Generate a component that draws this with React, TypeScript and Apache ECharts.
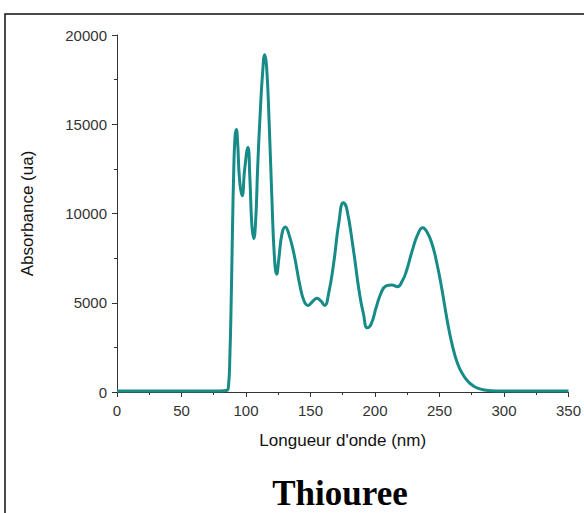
import React, { useEffect, useRef } from "react";
import * as echarts from "echarts";

const wavelength: number[] = [
  0, 20, 40, 60, 80, 85, 86.5, 87.5, 88.5, 89.5, 90.5, 91.5, 92.5, 93.5, 95, 97, 99, 101.5, 103, 104.5, 106,
  107.5, 109, 111, 113, 114.5, 116, 118, 120, 122, 123.8, 125.5, 128, 130.5, 133, 137, 142, 145, 148, 152,
  155, 158, 161, 164, 168, 172, 175.5, 178, 183, 188, 191, 194, 197, 201, 205, 208.6, 213, 217.5, 221, 224,
  229, 233, 237, 240, 244, 248, 252, 256, 260, 264, 268, 272, 276, 280, 285, 290, 300, 320, 350,
];
const absorbance: number[] = [
  60, 60, 60, 60, 60, 80, 400, 2000, 5000, 9000, 12400, 14300, 14700, 14000, 11900, 11000, 12500, 13700, 12000,
  9400, 8600, 9600, 12500, 15600, 18000, 18900, 18200, 15000, 11000, 7600, 6600, 7500, 8900, 9250, 8900, 7800,
  5900, 5100, 4850, 5100, 5250, 5100, 4850, 5500, 7230, 9500, 10600, 10300, 8100, 5500, 4400, 3600, 3800, 4760,
  5600, 5940, 6000, 5900, 6200, 6700, 7950, 8800, 9200, 9000, 8350, 7200, 5700, 4000, 2600, 1600, 1000, 600,
  350, 200, 110, 70, 55, 50, 50,
];
const xTicks = { min: 0, max: 350, interval: 50 };
const yTicks = { min: 0, max: 20000, interval: 5000 };

export default function App() {
  const ref = useRef<HTMLDivElement>(null);
  useEffect(() => {
    if (!ref.current) return;
    document.documentElement.style.overflow = "hidden";
    document.body.style.margin = "0";
    const chart = echarts.init(ref.current, null, { renderer: "svg" });
    const axisColor = "#333";
    const font = "'Liberation Sans', Arial, sans-serif";
    chart.setOption({
      animation: false,
      backgroundColor: "#fff",
      grid: { left: 117, top: 35, width: 457, height: 357 },
      xAxis: {
        type: "value",
        min: xTicks.min,
        max: xTicks.max,
        interval: xTicks.interval,
        name: "Longueur d'onde (nm)",
        nameLocation: "middle",
        nameGap: 40,
        nameTextStyle: { fontFamily: font, fontSize: 17, color: "#111" },
        axisLine: { show: true, lineStyle: { color: axisColor, width: 1 } },
        axisTick: { show: true, length: 5, lineStyle: { color: axisColor } },
        minorTick: { show: true, splitNumber: 2, length: 3, lineStyle: { color: axisColor } },
        splitLine: { show: false },
        axisLabel: {
          fontFamily: font,
          fontSize: 15,
          color: "#333",
          margin: 11,
          formatter: (v: number) => String(v),
        },
      },
      yAxis: {
        type: "value",
        min: yTicks.min,
        max: yTicks.max,
        interval: yTicks.interval,
        name: "Absorbance (ua)",
        nameLocation: "middle",
        nameGap: 81,
        nameTextStyle: { fontFamily: font, fontSize: 17, color: "#111" },
        axisLine: { show: true, lineStyle: { color: axisColor, width: 1 } },
        axisTick: { show: true, length: 5, lineStyle: { color: axisColor } },
        minorTick: { show: true, splitNumber: 2, length: 3, lineStyle: { color: axisColor } },
        splitLine: { show: false },
        axisLabel: {
          fontFamily: font,
          fontSize: 15,
          color: "#333",
          margin: 10,
          formatter: (v: number) => String(v),
        },
      },
      series: [
        {
          type: "line",
          data: wavelength.map((w, i) => [w, absorbance[i]]),
          smooth: 0.5,
          showSymbol: false,
          lineStyle: { color: "#168b88", width: 3 },
        },
      ],
      graphic: [
        {
          type: "rect",
          shape: { x: 5, y: 14, width: 620, height: 560 },
          style: { fill: "none", stroke: "#111", lineWidth: 1.5 },
          silent: true,
        },
        {
          type: "text",
          x: 340,
          y: 493,
          style: {
            text: "Thiouree",
            fontFamily: "'Liberation Serif', 'Times New Roman', serif",
            fontWeight: "bold",
            fontSize: 35,
            fill: "#000",
            align: "center",
            verticalAlign: "middle",
          },
        },
      ],
    });
    return () => chart.dispose();
  }, []);
  return (
    <div
      ref={ref}
      style={{ position: "fixed", left: 0, top: 0, width: 584, height: 513 }}
    />
  );
}
